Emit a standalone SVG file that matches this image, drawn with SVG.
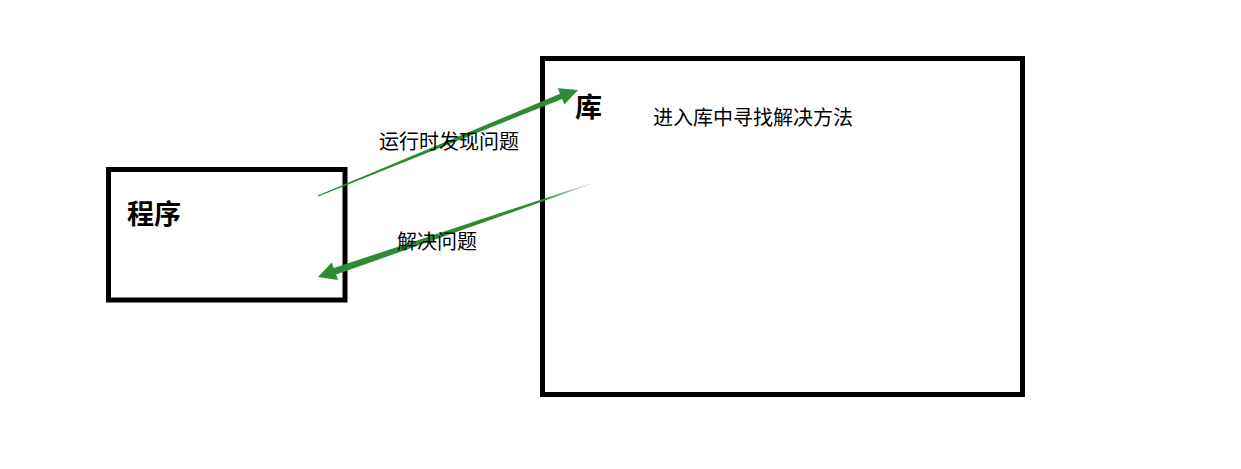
<svg xmlns="http://www.w3.org/2000/svg" width="1241" height="469" viewBox="0 0 1241 469">
<style>
.box{fill:#fff;stroke:#000;stroke-width:5}
.t{font-family:"Noto Sans CJK SC","Noto Sans",sans-serif;font-size:20px;fill:#000}
.b{font-family:"Noto Sans CJK SC","Noto Sans",sans-serif;font-size:27px;font-weight:bold;fill:#000}
.arr{fill:#2e8b34}
</style>
<defs>
<linearGradient id="fade2" gradientUnits="userSpaceOnUse" x1="590" y1="184" x2="540" y2="201">
<stop offset="0" stop-color="#2e8b34" stop-opacity="0.15"/>
<stop offset="1" stop-color="#2e8b34" stop-opacity="1"/>
</linearGradient>
</defs>
<rect width="1241" height="469" fill="#fff"/>
<g id="node-program">
<rect class="box" x="108.5" y="169.5" width="236.5" height="130.5"/>
<text class="b" x="127" y="224">程序</text>
</g>
<g id="node-library">
<rect class="box" x="542.5" y="58.5" width="480" height="336"/>
<text class="b" x="575" y="117">库</text>
<text class="t" x="653" y="124.5">进入库中寻找解决方法</text>
</g>
<g id="connectors">
<polygon class="arr" points="317.8,195.5 560.0,93.8 557.8,88.2 578,90 564.4,104.4 562.2,98.9 318.2,196.5"/>
<polygon fill="url(#fade2)" points="589.8,183.5 333.7,268.0 331.8,262.4 318,277 338.0,280.1 336.1,274.6 590.2,184.5"/>
<text class="t" x="379" y="149">运行时发现问题</text>
<text class="t" x="397" y="249">解决问题</text>
</g>
</svg>
